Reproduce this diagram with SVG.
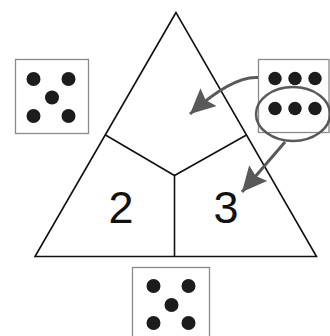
<svg xmlns="http://www.w3.org/2000/svg" width="330" height="336" viewBox="0 0 330 336">
<style>
.box{fill:#fff;stroke:#8a8a8a;stroke-width:1.3}
.dot{fill:#1c1c1c}
.tri{fill:none;stroke:#111;stroke-width:1.6;stroke-linejoin:miter}
.num{font-family:"Liberation Sans",Arial,sans-serif;font-size:45px;fill:#111;text-anchor:middle}
.arr{fill:none;stroke:#595959;stroke-width:3}
</style>
<defs>
<marker id="ah" markerUnits="userSpaceOnUse" markerWidth="28" markerHeight="26" refX="25" refY="12" orient="auto">
<path d="M0,0 L25,12 L0,24 L4,12 z" fill="#595959"/>
</marker>
</defs>
<rect width="330" height="336" fill="#fff"/>
<g id="triangle">
<polygon class="tri" points="176,12.5 35,256.5 316.5,256.5"/>
<polyline class="tri" points="105.5,135 174.5,175.5 246.5,135"/>
<line class="tri" x1="174.5" y1="175.5" x2="174.5" y2="256.5"/>
<text class="num" x="121" y="222.5">2</text>
<text class="num" x="226" y="222.5">3</text>
</g>
<g id="box-left">
<rect class="box" x="15.5" y="59.5" width="73" height="74"/>
<circle class="dot" cx="33.5" cy="79" r="7"/>
<circle class="dot" cx="68.5" cy="79" r="7"/>
<circle class="dot" cx="52" cy="97.5" r="7"/>
<circle class="dot" cx="33.5" cy="116" r="7"/>
<circle class="dot" cx="68.5" cy="116" r="7"/>
</g>
<g id="box-right">
<rect class="box" x="258.5" y="59.5" width="70.5" height="73"/>
<circle class="dot" cx="275" cy="78.5" r="6.7"/>
<circle class="dot" cx="295" cy="78.5" r="6.7"/>
<circle class="dot" cx="315" cy="78.5" r="6.7"/>
<circle class="dot" cx="275" cy="108.5" r="6.7"/>
<circle class="dot" cx="295" cy="108.5" r="6.7"/>
<circle class="dot" cx="315" cy="108.5" r="6.7"/>
<ellipse cx="293" cy="114" rx="37" ry="27" fill="none" stroke="#595959" stroke-width="2.5"/>
</g>
<g id="box-bottom">
<rect class="box" x="132.5" y="267.5" width="77" height="80"/>
<circle class="dot" cx="153.5" cy="286" r="7"/>
<circle class="dot" cx="188.5" cy="286" r="7"/>
<circle class="dot" cx="171.5" cy="305" r="7"/>
<circle class="dot" cx="153.5" cy="323" r="7"/>
<circle class="dot" cx="188.5" cy="323" r="7"/>
</g>
<g id="connectors">
<path class="arr" d="M258,77.5 Q232,76 190,114" marker-end="url(#ah)"/>
<path class="arr" d="M285,142 L242,192" marker-end="url(#ah)"/>
</g>
</svg>
